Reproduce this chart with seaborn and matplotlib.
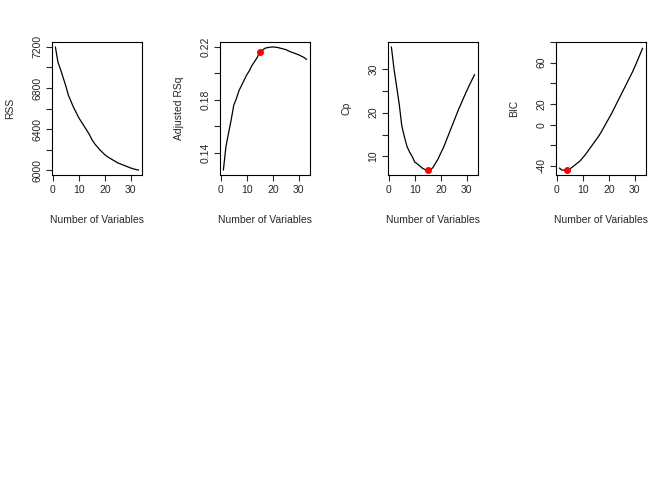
import matplotlib
matplotlib.use("Agg")
import matplotlib.pyplot as plt
import numpy as np
import seaborn as sns

sns.set_style("white")
plt.rcParams["font.family"] = ["Liberation Sans", "DejaVu Sans"]

n_vars = list(range(1, 34))
rss = [7200, 7050, 6980, 6900, 6820, 6730, 6670, 6610, 6560, 6510, 6470, 6430, 6390,
       6350, 6300, 6260, 6230, 6200, 6175, 6150, 6130, 6115, 6100, 6085, 6070, 6060,
       6050, 6040, 6030, 6020, 6012, 6005, 6000]
adj_r2 = [0.127, 0.145, 0.155, 0.165, 0.176, 0.181, 0.187, 0.191, 0.195, 0.199, 0.202,
          0.206, 0.209, 0.212, 0.2165, 0.2175, 0.219, 0.2195, 0.2198, 0.2200, 0.2198,
          0.2195, 0.219, 0.2185, 0.218, 0.217, 0.2162, 0.2155, 0.2147, 0.214, 0.213,
          0.212, 0.2105]
cp = [35, 30, 26, 22, 17, 14.5, 12.3, 11, 10, 8.7, 8.3, 7.8, 7.3, 7.0, 6.9, 6.9, 7.5,
      8.5, 9.5, 10.8, 12, 13.5, 15, 16.5, 18, 19.5, 21, 22.3, 23.7, 25, 26.3, 27.5, 28.7]
bic = [-42, -44, -44, -44, -43, -41, -39, -37, -35, -32, -29, -25.5, -22, -18.5, -15,
       -11.5, -7.5, -3, 1.5, 6, 10.5, 15.5, 20.5, 25.5, 30.5, 35.5, 40.5, 45.5, 50.5,
       56, 62, 68, 74]

panels = [
    ("RSS", rss, None, [6000, 6400, 6800, 7200]),
    ("Adjusted RSq", adj_r2, 15, [0.14, 0.18, 0.22]),
    ("Cp", cp, 15, [10, 20, 30]),
    ("BIC", bic, 4, [-40, 0, 20, 60]),
]
all_ticks = {"RSS": [6000, 6200, 6400, 6600, 6800, 7000, 7200],
             "Adjusted RSq": [0.14, 0.16, 0.18, 0.20, 0.22],
             "Cp": [10, 15, 20, 25, 30], "BIC": [-40, -20, 0, 20, 40, 60, 80]}

fig = plt.figure(figsize=(6.72, 4.8), dpi=100)
lefts = [52, 220, 388, 556]
for left, (label, vals, best, ticks) in zip(lefts, panels):
    ax = fig.add_axes([left / 672, 1 - 175 / 480, 90 / 672, 133 / 480])
    sns.lineplot(x=n_vars, y=vals, ax=ax, color="black", linewidth=0.9)
    if best is not None:
        ax.plot(n_vars[best - 1], vals[best - 1], "o", color="red", markersize=4)
    lo, hi = min(vals), max(vals)
    pad = (hi - lo) * 0.04
    ax.set_ylim(lo - pad, hi + pad)
    ax.set_xlim(-0.3, 34.3)
    ax.set_xticks([0, 10, 20, 30])
    yt = all_ticks[label]
    ax.set_yticks(yt)
    ax.set_yticklabels([str(t) if t in ticks else "" for t in yt],
                       rotation=90, va="center")
    ax.tick_params(axis="both", direction="out", length=4, width=0.8,
                   labelsize=7.5, left=True, bottom=True)
    ax.tick_params(axis="y", pad=3)
    for s in ax.spines.values():
        s.set_linewidth(0.8)
        s.set_color("black")
    ax.set_xlabel("Number of Variables", fontsize=7.5, labelpad=14)
    ax.set_ylabel(label, fontsize=7.5, labelpad=12)

fig.savefig("out.png", dpi=100)
